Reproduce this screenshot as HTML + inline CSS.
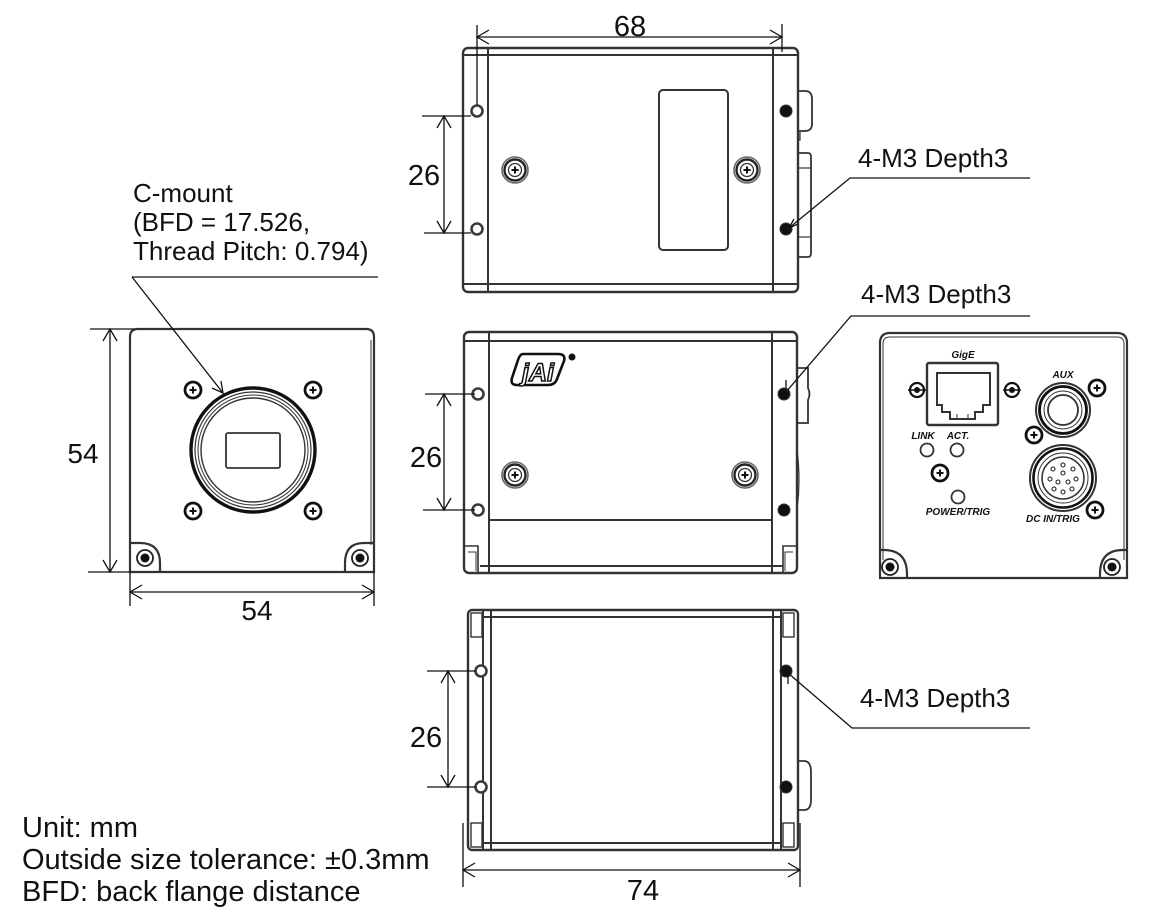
<!DOCTYPE html>
<html><head><meta charset="utf-8"><style>
html,body{margin:0;padding:0;background:#fff;}
svg{display:block;}
text{font-family:"Liberation Sans",Arial,sans-serif;fill:#111;}
</style></head><body>
<svg width="1162" height="922" viewBox="0 0 1162 922" xmlns="http://www.w3.org/2000/svg">
<defs>
 <g id="scr">
  <circle r="13" fill="#fff" stroke="#666" stroke-width="1.6"/>
  <circle r="10.5" fill="none" stroke="#222" stroke-width="2.4"/>
  <circle r="6.5" fill="none" stroke="#333" stroke-width="1.3"/>
  <path d="M-3.5,0H3.5M0,-3.5V3.5" stroke="#111" stroke-width="2"/>
 </g>
 <g id="fs">
  <circle r="8" fill="#fff" stroke="#111" stroke-width="2.8"/>
  <path d="M-3.5,0H3.5M0,-3.5V3.5" stroke="#111" stroke-width="2"/>
 </g>
 <g id="oh"><circle r="5.5" fill="#fff" stroke="#3a3a3a" stroke-width="2.6"/></g>
 <g id="fh"><circle r="6" fill="#111" stroke="#333" stroke-width="1"/></g>
 <g id="cs">
  <circle r="8" fill="#fff" stroke="#222" stroke-width="1.8"/>
  <circle r="4.5" fill="#111"/>
 </g>
</defs>

<!-- ============ TOP VIEW ============ -->
<g fill="none" stroke="#333" stroke-width="2.4">
 <rect x="463" y="48" width="335" height="244" rx="5"/>
 <line x1="463" y1="55" x2="798" y2="55" stroke-width="2"/>
 <line x1="463" y1="284" x2="798" y2="284" stroke-width="2"/>
 <line x1="488" y1="48" x2="488" y2="292" stroke-width="2"/>
 <line x1="773" y1="48" x2="773" y2="292" stroke-width="2"/>
 <rect x="659" y="90" width="69" height="160" rx="4" stroke-width="2"/>
 <path d="M798,91 H805 Q812,91 812,99 V124 Q812,131 805,131 H798" stroke-width="1.8"/>
 <path d="M800,131 V140 H798" stroke-width="1.2"/>
 <path d="M798,153 H808 Q811,153 811,157 V253 Q811,257 808,257 H798" stroke-width="1.8"/>
 <line x1="798" y1="168" x2="811" y2="168" stroke-width="1.2"/>
 <line x1="798" y1="237" x2="811" y2="237" stroke-width="1.2"/>
</g>
<use href="#oh" x="477" y="111"/><use href="#oh" x="477" y="229"/>
<use href="#fh" x="786" y="111"/><use href="#fh" x="786" y="229"/>
<use href="#scr" x="515" y="170"/><use href="#scr" x="747" y="170"/>

<!-- dims top -->
<g fill="none" stroke="#111" stroke-width="1.3">
 <line x1="477" y1="25" x2="477" y2="105"/>
 <line x1="782" y1="24" x2="782" y2="52"/>
 <line x1="477" y1="37" x2="782" y2="37"/>
 <path d="M489,30 L477,37 L489,44"/>
 <path d="M770,30 L782,37 L770,44"/>
 <line x1="422" y1="116" x2="471" y2="116"/>
 <line x1="424" y1="233" x2="471" y2="233"/>
 <line x1="444" y1="116" x2="444" y2="233"/>
 <path d="M437,128 L444,116 L451,128"/>
 <path d="M437,221 L444,233 L451,221"/>
 <path d="M1030,178 H850 L789,228"/>
 <path d="M794,219 L789,228 L798,224"/>
</g>
<text x="630" y="36" font-size="29" text-anchor="middle">68</text>
<text x="424" y="185" font-size="29" text-anchor="middle">26</text>
<text x="858" y="167" font-size="26">4-M3 Depth3</text>

<!-- ============ FRONT VIEW ============ -->
<g fill="none" stroke="#333" stroke-width="2.2">
 <path d="M130,337 Q130,329 138,329 H366 Q374,329 374,337 V572 H130 Z"/>
 <line x1="371" y1="340" x2="371" y2="545" stroke-width="1"/>
 <path d="M130,543 H140 Q160,543 160,563 V572"/>
 <path d="M374,543 H364 Q345,543 345,563 V572"/>
 <circle cx="253" cy="450" r="62" stroke="#111" stroke-width="3.4"/>
 <circle cx="253" cy="450" r="58" stroke-width="1.2"/>
 <circle cx="253" cy="450" r="55" stroke-width="1"/>
 <circle cx="253" cy="450" r="52" stroke-width="1.4"/>
 <rect x="226" y="433" width="54" height="35" rx="2" stroke-width="1.8"/>
</g>
<use href="#cs" x="145" y="558"/><use href="#cs" x="360" y="558"/>
<use href="#fs" x="193" y="390"/><use href="#fs" x="313" y="390"/>
<use href="#fs" x="193" y="511"/><use href="#fs" x="313" y="511"/>

<g fill="none" stroke="#111" stroke-width="1.3">
 <line x1="132" y1="277" x2="378" y2="277"/>
 <line x1="132" y1="277" x2="223" y2="393"/>
 <path d="M212,388 L223,393 L221,381"/>
 <line x1="90" y1="329" x2="135" y2="329"/>
 <line x1="88" y1="572" x2="130" y2="572"/>
 <line x1="110" y1="329" x2="110" y2="572"/>
 <path d="M103,341 L110,329 L117,341"/>
 <path d="M103,560 L110,572 L117,560"/>
 <line x1="130" y1="572" x2="130" y2="606"/>
 <line x1="374" y1="572" x2="374" y2="606"/>
 <line x1="130" y1="592" x2="374" y2="592"/>
 <path d="M142,585 L130,592 L142,599"/>
 <path d="M362,585 L374,592 L362,599"/>
</g>
<text x="133" y="202" font-size="26">C-mount</text>
<text x="133" y="231" font-size="26">(BFD = 17.526,</text>
<text x="133" y="260" font-size="26">Thread Pitch: 0.794)</text>
<text x="83" y="463" font-size="28" text-anchor="middle">54</text>
<text x="257" y="620" font-size="28" text-anchor="middle">54</text>

<!-- ============ SIDE (MIDDLE) VIEW ============ -->
<g fill="none" stroke="#333" stroke-width="2.4">
 <rect x="464" y="332" width="333" height="241" rx="5"/>
 <line x1="464" y1="341" x2="797" y2="341" stroke-width="2"/>
 <line x1="489" y1="332" x2="489" y2="573" stroke-width="2"/>
 <line x1="772" y1="332" x2="772" y2="573" stroke-width="2"/>
 <line x1="489" y1="520" x2="772" y2="520" stroke-width="2"/>
 <line x1="480" y1="566" x2="783" y2="566" stroke-width="2"/>
 <path d="M464,546 H478 V573" stroke-width="1.6"/>
 <path d="M468,552 H476 V571" stroke-width="1"/>
 <path d="M797,546 H783 V573" stroke-width="1.6"/>
 <path d="M793,552 H785 V571" stroke-width="1"/>
 <path d="M797,368 H808 V388 Q811,394 808,400 V423 H797" stroke-width="1.8"/>
 <path d="M797,450 Q801,480 797,510" stroke-width="1.2"/>
</g>
<use href="#oh" x="478" y="394"/><use href="#oh" x="478" y="510"/>
<use href="#fh" x="784" y="394"/><use href="#fh" x="784" y="510"/>
<use href="#scr" x="515" y="475"/><use href="#scr" x="745" y="475"/>
<!-- logo -->
<path d="M523,354 L558,354 Q566,354 564,361 L557,379 Q555,385 548,385 L517,385 Q510,385 512,378 L518,360 Q520,354 523,354 Z" fill="none" stroke="#111" stroke-width="2.6"/>
<text x="538" y="381" font-size="25" font-style="italic" font-weight="bold" text-anchor="middle" style="fill:#fff;stroke:#111;stroke-width:1.5">jAi</text>
<circle cx="572" cy="357" r="3.5" fill="#111"/>

<g fill="none" stroke="#111" stroke-width="1.3">
 <line x1="425" y1="394" x2="475" y2="394"/>
 <line x1="423" y1="510" x2="475" y2="510"/>
 <line x1="444" y1="394" x2="444" y2="510"/>
 <path d="M437,406 L444,394 L451,406"/>
 <path d="M437,498 L444,510 L451,498"/>
 <path d="M1030,316 H851 L786,392"/>
 <path d="M786,380 V392"/>
</g>
<text x="426" y="467" font-size="29" text-anchor="middle">26</text>
<text x="861" y="303" font-size="26">4-M3 Depth3</text>

<!-- ============ BOTTOM VIEW ============ -->
<g fill="none" stroke="#333" stroke-width="2.4">
 <rect x="468" y="610" width="330" height="240" rx="4"/>
 <line x1="483" y1="617" x2="781" y2="617" stroke-width="2"/>
 <line x1="483" y1="843" x2="781" y2="843" stroke-width="2"/>
 <line x1="483" y1="610" x2="483" y2="850" stroke-width="2"/>
 <line x1="491" y1="610" x2="491" y2="850" stroke-width="2"/>
 <line x1="773" y1="610" x2="773" y2="850" stroke-width="2"/>
 <line x1="781" y1="610" x2="781" y2="850" stroke-width="2"/>
 <rect x="471" y="613" width="11" height="24" stroke-width="1.4"/>
 <rect x="471" y="823" width="11" height="24" stroke-width="1.4"/>
 <rect x="783" y="613" width="11" height="24" stroke-width="1.4"/>
 <rect x="783" y="823" width="11" height="24" stroke-width="1.4"/>
 <path d="M798,761 H804 Q811,761 811,772 V800 Q811,810 804,810 H798" stroke-width="1.8"/>
</g>
<use href="#oh" x="481" y="671"/><use href="#oh" x="481" y="787"/>
<use href="#fh" x="786" y="671"/><use href="#fh" x="786" y="787"/>
<g fill="none" stroke="#111" stroke-width="1.3">
 <line x1="427" y1="671" x2="476" y2="671"/>
 <line x1="427" y1="787" x2="476" y2="787"/>
 <line x1="448" y1="671" x2="448" y2="787"/>
 <path d="M441,683 L448,671 L455,683"/>
 <path d="M441,775 L448,787 L455,775"/>
 <line x1="463" y1="823" x2="463" y2="887"/>
 <line x1="800" y1="823" x2="800" y2="887"/>
 <line x1="463" y1="870" x2="800" y2="870"/>
 <path d="M475,863 L463,870 L475,877"/>
 <path d="M788,863 L800,870 L788,877"/>
 <path d="M1030,728 H852 L788,673"/>
 <path d="M788,673 V684"/>
</g>
<text x="426" y="747" font-size="29" text-anchor="middle">26</text>
<text x="643" y="900" font-size="29" text-anchor="middle">74</text>
<text x="860" y="707" font-size="26">4-M3 Depth3</text>

<!-- ============ REAR PANEL ============ -->
<g fill="none" stroke="#333" stroke-width="2.2">
 <path d="M880,343 Q880,333 890,333 H1117 Q1127,333 1127,343 V578 H880 Z"/>
 <path d="M883,560 V344 Q883,337 890,337 H1117 Q1124,337 1124,344 V560" stroke-width="1"/>
 <path d="M880,550 H884 Q907,550 907,574 V578"/>
 <path d="M1127,550 H1123 Q1100,550 1100,574 V578"/>
 <rect x="927" y="363" width="71" height="62" rx="2" stroke-width="2.4"/>
 <path d="M937,373 H990 V405 H983 V412 H975 V419 H950 V412 H942 V405 H937 Z" stroke-width="2"/>
 <line x1="957" y1="419" x2="957" y2="414" stroke-width="1"/>
 <line x1="968" y1="419" x2="968" y2="414" stroke-width="1"/>
 <circle cx="927" cy="450" r="6.5" stroke-width="1.8"/>
 <circle cx="957" cy="450" r="6.5" stroke-width="1.8"/>
 <circle cx="958" cy="497" r="6.5" stroke-width="1.8"/>
 <!-- AUX -->
 <circle cx="1063" cy="410" r="27" stroke-width="2"/>
 <circle cx="1063" cy="410" r="23.5" stroke="#111" stroke-width="2.8"/>
 <circle cx="1063" cy="410" r="19" stroke-width="1"/>
 <circle cx="1063" cy="410" r="15" stroke-width="1.8"/>
 <!-- DC IN -->
 <circle cx="1063" cy="478" r="33" stroke-width="2"/>
 <circle cx="1063" cy="478" r="29.5" stroke="#111" stroke-width="2.6"/>
 <circle cx="1063" cy="478" r="25" stroke-width="1"/>
 <circle cx="1063" cy="478" r="21" stroke-width="1.6"/>
</g>
<g fill="none" stroke="#222" stroke-width="1.1">
 <circle cx="1063" cy="465" r="2"/><circle cx="1073" cy="469" r="2"/><circle cx="1076" cy="479" r="2"/>
 <circle cx="1072" cy="489" r="2"/><circle cx="1063" cy="492" r="2"/><circle cx="1054" cy="489" r="2"/>
 <circle cx="1050" cy="479" r="2"/><circle cx="1053" cy="469" r="2"/><circle cx="1063" cy="473" r="2"/>
 <circle cx="1058" cy="482" r="2"/><circle cx="1068" cy="482" r="2"/>
</g>
<g>
 <circle cx="917" cy="390" r="7" fill="#fff" stroke="#111" stroke-width="2.2"/>
 <line x1="908" y1="390" x2="926" y2="390" stroke="#111" stroke-width="1.4"/>
 <circle cx="917" cy="390" r="3" fill="#111"/>
 <circle cx="1012" cy="390" r="7" fill="#fff" stroke="#111" stroke-width="2.2"/>
 <line x1="1003" y1="390" x2="1021" y2="390" stroke="#111" stroke-width="1.4"/>
 <circle cx="1012" cy="390" r="3" fill="#111"/>
</g>
<use href="#fs" x="940" y="473"/>
<use href="#fs" x="1097" y="388"/>
<use href="#fs" x="1034" y="435"/>
<use href="#fs" x="1095" y="510"/>
<use href="#cs" x="890" y="567"/>
<use href="#cs" x="1112" y="567"/>
<g font-size="10" font-weight="bold" font-style="italic" text-anchor="middle">
 <text x="963" y="358">GigE</text>
 <text x="1063" y="378">AUX</text>
 <text x="923" y="439">LINK</text>
 <text x="958" y="439">ACT.</text>
 <text x="958" y="515">POWER/TRIG</text>
 <text x="1053" y="522">DC IN/TRIG</text>
</g>

<!-- ============ NOTES ============ -->
<g font-size="29">
 <text x="22" y="837">Unit: mm</text>
 <text x="22" y="869">Outside size tolerance: ±0.3mm</text>
 <text x="22" y="901">BFD: back flange distance</text>
</g>
</svg>
</body></html>
